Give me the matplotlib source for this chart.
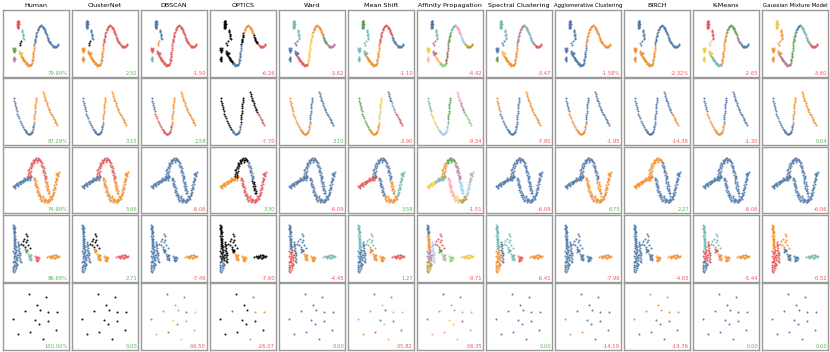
import numpy as np
import matplotlib
matplotlib.use('Agg')
import matplotlib.pyplot as plt

methods = ['Human', 'ClusterNet', 'DBSCAN', 'OPTICS', 'Ward', 'Mean Shift',
           'Affinity Propagation', 'Spectral Clustering', 'Agglomerative Clustering',
           'BIRCH', 'K-Means', 'Gaussian Mixture Model']

palette = {'B': '#4e79a7', 'O': '#f28e2b', 'R': '#e15759', 'T': '#76b7b2',
           'G': '#59a14f', 'Y': '#edc948', 'P': '#b07aa1', 'K': '#ff9da7',
           'N': '#9c755f', 'A': '#bab0ac', 'X': '#000000', 'b': '#a0cbe8',
           'o': '#ffbe7d', 'g': '#8cd17d', 'v': '#b6992d'}

# ---- row 1: sine curve with small groups on the left ----
d1_segments = [
    [(14.6, 10.8), (15.2, 11.4), (14.3, 12.0), (15.5, 12.4), (14.8, 12.9), (15.0, 13.6), (14.2, 14.1),
     (15.6, 14.5), (14.7, 15.1), (15.3, 15.7), (14.4, 16.2), (15.1, 16.8), (14.9, 17.4), (14.5, 18.0),
     (15.4, 18.3), (15.0, 11.0), (14.9, 14.0), (15.2, 17.0)],
    [(19.0, 19.6), (19.4, 20.8), (19.1, 22.3), (19.8, 23.6), (19.5, 25.1), (20.1, 26.4), (19.9, 27.6), (20.5, 28.8)],
    [(16.5, 33.0), (18.2, 31.0), (17.0, 35.5)],
    [(10.0, 38.2), (10.8, 38.9), (11.5, 39.6), (10.4, 40.3), (11.2, 41.0), (12.0, 40.2), (10.6, 41.7), (11.8, 38.4)],
    [(16.2, 41.0), (17.1, 41.8), (17.8, 42.9), (16.8, 43.6), (18.4, 44.2), (17.5, 45.0), (16.4, 42.6), (18.9, 43.1)],
    [(11.2, 46.8), (10.7, 47.9), (11.5, 48.6), (10.4, 49.5), (11.0, 50.4), (10.6, 51.2)],
    [(18.3, 46.0), (19.0, 47.0), (18.7, 47.8), (19.6, 48.5), (20.2, 49.6), (20.8, 50.3), (21.3, 51.2),
     (22.0, 52.0), (22.6, 52.8), (21.6, 50.9), (19.9, 48.9)],
    [(23.3, 53.6), (24.0, 54.3), (24.8, 54.9), (25.5, 55.4), (26.2, 55.5), (27.0, 55.2), (27.6, 54.6),
     (28.2, 53.8), (25.0, 55.7), (26.6, 54.9), (23.8, 53.4)],
    [(28.7, 52.6), (29.1, 51.0), (29.4, 49.3), (29.7, 47.5), (29.9, 45.6), (30.2, 43.7), (30.4, 41.8),
     (30.6, 39.9), (30.8, 38.0), (31.0, 36.2), (29.5, 50.2), (30.1, 44.5)],
    [(31.2, 34.3), (31.5, 32.5), (31.8, 30.7), (32.1, 28.9), (32.5, 27.0), (32.9, 25.1), (33.3, 23.4),
     (31.9, 29.6), (32.7, 26.2)],
    [(33.9, 21.7), (34.5, 20.1), (35.1, 18.7), (35.8, 17.4), (36.6, 16.3), (37.4, 15.6), (38.2, 15.4),
     (34.8, 19.4), (36.2, 16.9)],
    [(39.0, 15.8), (39.7, 16.7), (40.3, 17.9), (40.9, 19.2), (41.5, 20.5), (42.0, 21.8), (42.6, 23.1),
     (43.1, 24.3), (40.6, 18.4), (41.8, 21.1)],
    [(43.6, 25.5), (44.2, 26.9), (44.8, 28.3), (45.4, 29.6), (46.0, 30.9), (46.6, 32.1), (47.2, 33.2),
     (45.1, 28.8), (46.3, 31.6)],
    [(47.9, 34.3), (48.7, 35.3), (49.5, 36.1), (50.4, 36.7), (51.3, 37.0), (52.2, 36.9), (53.0, 36.4),
     (53.8, 35.8), (54.6, 35.0), (55.4, 34.3), (50.9, 36.5), (52.7, 36.6)],
]
d1_labels = ['RTXGYPOOOBBBBB', 'BBXOOOOOORRRRR', 'BBORRTRRRRRRRR', 'XXXXXXXBBXOOXR',
             'TTBBBBRRYYOOGP', 'GTTTTTOOORRRBB', 'BTRYPoogNGTKbv', 'TTBBYGOOOPPTTR',
             'BBBBBBBBBOOOOO', 'BBBOOOOOOBBBBB', 'RRYYYYTTOOGGPB', 'YOOOOOPPGGBTTR']
d1_scores = ['79.99%', '2.52', '-1.50', '-6.26', '-3.62', '-1.10', '-4.42', '-3.47',
             '-1.58%', '-2.32%', '-2.65', '-3.60']

# ---- row 2: U followed by two lines ----
d2_segments = [
    [(11.0, 20.2), (11.4, 22.5), (11.7, 24.6), (12.1, 26.8), (12.6, 29.0), (13.1, 31.2), (13.6, 33.1)],
    [(14.3, 35.5), (15.0, 37.8), (15.8, 40.1), (16.7, 42.4), (17.7, 44.6), (18.8, 46.7), (19.9, 48.6), (21.0, 50.3)],
    [(21.8, 51.5), (22.6, 52.7), (23.4, 53.8), (24.3, 54.8), (25.2, 55.5), (26.2, 55.9), (27.1, 55.7),
     (27.9, 55.0), (28.6, 53.9), (29.2, 52.5), (29.7, 50.9), (30.1, 49.1), (30.4, 47.3), (30.6, 45.5),
     (23.0, 53.5), (25.8, 55.9), (28.3, 54.5)],
    [(30.8, 43.4), (31.0, 41.2), (31.2, 39.0), (31.4, 36.8), (31.6, 34.6), (31.8, 32.4), (32.0, 30.2),
     (32.2, 28.0), (32.4, 25.8), (32.6, 23.6), (32.8, 21.4), (33.0, 19.3)],
    [(40.0, 13.8), (40.6, 15.7), (41.2, 17.6), (41.8, 19.5), (42.4, 21.4), (43.0, 23.2)],
    [(43.6, 25.0), (44.3, 26.8), (45.0, 28.6), (45.7, 30.4), (46.4, 32.1), (47.1, 33.8)],
    [(47.9, 35.5), (48.8, 37.2), (49.7, 38.8), (50.6, 40.4), (51.5, 42.0), (52.4, 43.6), (53.3, 45.1), (54.2, 46.6)],
]
d2_labels = ['BBBOOOO', 'BBBOOOO', 'BRROOOO', 'XXBXXXR', 'OOOBBBB', 'GGOYBTR',
             'TYbGKPg', 'OBBBOOO', 'BOOBBBB', 'BBBBBBO', 'BOOBBBB', 'BBBOOOO']
d2_scores = ['87.29%', '3.10', '2.58', '-7.70', '3.10', '-3.90', '-9.34', '-7.80',
             '-1.95', '-14.38', '-1.30', '0.64']

# ---- row 3: loop shape ----
d3_segments = [
    [(10.2, 39.5), (11.0, 40.6), (11.6, 38.4), (12.3, 39.7), (13.1, 37.6), (13.8, 38.9), (14.4, 36.8),
     (15.2, 38.0), (15.9, 36.0), (16.6, 37.3), (17.3, 35.4), (18.1, 36.6), (18.8, 34.6), (12.0, 41.2),
     (14.9, 39.6), (17.8, 34.1)],
    [(19.5, 35.6), (20.1, 33.7), (20.9, 34.8), (21.6, 32.9), (22.4, 34.0), (23.1, 32.0), (23.8, 33.2),
     (24.6, 31.1), (25.3, 32.4), (26.1, 30.4), (26.8, 31.6), (27.6, 29.8), (28.3, 30.9), (21.2, 31.8),
     (24.0, 30.2), (26.5, 33.0)],
    [(24.8, 29.5), (26.6, 28.8), (25.4, 27.3), (27.2, 26.4), (25.9, 25.1), (27.7, 24.0), (26.4, 22.8),
     (28.2, 21.7), (26.9, 20.5), (28.7, 19.4), (27.5, 18.2), (29.1, 17.1), (28.0, 16.0), (25.2, 23.5),
     (27.0, 30.6)],
    [(29.6, 15.2), (30.3, 13.6), (31.0, 14.9), (31.7, 12.5), (32.4, 13.9), (33.1, 11.6), (33.8, 13.2),
     (34.5, 11.9), (35.2, 13.6), (35.9, 12.4), (36.6, 14.5), (37.2, 13.1), (30.8, 16.4), (34.0, 15.0)],
    [(37.8, 15.9), (39.0, 16.6), (38.4, 18.2), (39.8, 19.1), (39.0, 20.7), (40.5, 21.6), (39.7, 23.2),
     (41.2, 24.0), (40.4, 25.6), (41.9, 26.5), (41.1, 28.1), (42.6, 29.0), (41.8, 30.6), (43.3, 31.5),
     (42.3, 32.8)],
    [(30.6, 31.4), (32.2, 32.3), (31.1, 33.8), (32.8, 34.7), (31.6, 36.2), (33.4, 37.1), (32.2, 38.6),
     (33.9, 39.5), (32.8, 41.0), (34.5, 41.9), (33.5, 43.4), (35.1, 44.3), (34.2, 45.8), (35.7, 46.7),
     (34.9, 48.2), (36.3, 49.0)],
    [(42.0, 34.3), (43.6, 35.2), (42.5, 36.7), (44.1, 37.6), (43.0, 39.1), (44.6, 40.0), (43.5, 41.5),
     (45.1, 42.4), (44.0, 43.9), (45.5, 44.8), (44.6, 46.2), (46.0, 47.0)],
    [(36.5, 50.6), (37.4, 52.3), (38.3, 51.0), (39.1, 53.2), (40.0, 51.8), (40.8, 54.0), (41.6, 52.5),
     (42.4, 54.6), (38.0, 54.1), (41.1, 55.3), (36.9, 48.9), (39.6, 49.9)],
    [(43.2, 53.1), (44.0, 55.1), (44.8, 53.4), (45.6, 54.8), (46.4, 52.6), (47.2, 54.0), (48.0, 51.7),
     (48.6, 53.0), (45.2, 56.0), (47.6, 50.5), (46.5, 49.6)],
    [(49.1, 49.6), (50.4, 48.2), (49.5, 46.7), (51.0, 45.5), (50.1, 44.0), (51.5, 42.8), (50.7, 41.3),
     (52.1, 40.1), (51.3, 38.6), (52.6, 37.6), (49.8, 47.9)],
    [(52.0, 36.0), (53.4, 35.0), (52.6, 33.5), (54.0, 32.5), (53.1, 31.0), (54.5, 29.9), (53.7, 28.5),
     (55.0, 27.4), (54.2, 26.2), (55.6, 25.3), (53.0, 27.0)],
]
d3_labels = ['BBRRROOOOOO', 'BBRRROOOOOO', 'BBBBBBBBBBB', 'OOXXBRXRRRR', 'BBBBBBBBBBB',
             'RRBBBBOOOTT', 'YTOGPKbovbA', 'BBBBBBBBBBB', 'BBBBBOOOOOO', 'OOOOBBBBBBB',
             'BBBBBBBBBBB', 'BBBBBBBBBBB']
d3_scores = ['74.99%', '5.66', '-6.06', '3.30', '-6.09', '3.59', '-1.51', '-6.09',
             '6.75', '2.27', '-6.06', '-6.06']

# ---- row 4: dense column with a tail of groups ----
d4_segments = [
    [(10.4, 10.3), (11.2, 11.2), (10.7, 12.4), (11.5, 13.3), (10.5, 14.5), (11.3, 15.4), (10.8, 16.6),
     (11.6, 17.5), (10.6, 18.7), (11.4, 19.6), (10.3, 13.0), (11.0, 17.1)],
    [(10.5, 20.8), (11.7, 21.6), (10.8, 22.9), (12.1, 23.8), (10.6, 25.0), (11.9, 26.0), (11.1, 27.2),
     (12.4, 28.1), (10.7, 29.3), (12.0, 30.2), (11.3, 31.4), (12.6, 32.3), (10.9, 33.5), (12.2, 34.4),
     (11.5, 24.4), (11.8, 31.0)],
    [(10.3, 36.0), (11.6, 36.8), (12.9, 37.5), (10.8, 38.4), (12.2, 39.2), (13.6, 39.9), (10.5, 40.8),
     (11.9, 41.6), (13.3, 42.3), (14.4, 43.0), (10.9, 43.7), (12.5, 44.5), (13.9, 45.3), (11.4, 46.0),
     (14.8, 40.5), (12.8, 35.6)],
    [(10.1, 47.0), (11.5, 47.6), (12.9, 48.3), (14.2, 48.9), (10.5, 49.8), (11.9, 50.5), (13.4, 51.2),
     (9.8, 52.0), (11.2, 52.7), (12.6, 53.4), (10.4, 54.3), (11.8, 55.0), (9.9, 56.2), (11.0, 57.0),
     (13.8, 50.2), (12.3, 46.2)],
    [(14.6, 27.5), (15.3, 29.4), (14.9, 31.2), (15.8, 33.0), (15.2, 34.9), (16.3, 36.7), (15.6, 38.6),
     (16.8, 40.4), (16.0, 42.3), (17.2, 44.1), (16.5, 45.9), (17.5, 47.6), (15.9, 30.4), (16.9, 37.8)],
    [(23.2, 18.9), (23.8, 21.6), (21.4, 24.5), (19.5, 26.2), (22.6, 27.4), (24.9, 29.8), (18.1, 29.0),
     (20.4, 30.5), (26.6, 33.2), (22.0, 32.0), (24.0, 25.2)],
    [(22.3, 34.3), (23.4, 34.9), (22.8, 35.9), (23.9, 36.3), (22.5, 37.0), (23.6, 35.4)],
    [(25.3, 39.2), (26.6, 39.8), (25.8, 41.0), (27.1, 41.5), (26.2, 42.7), (27.6, 43.2), (26.7, 44.4),
     (28.2, 44.8), (25.6, 43.8), (27.9, 40.6)],
    [(32.4, 41.4), (33.6, 42.0), (34.8, 41.8), (33.0, 43.2), (34.3, 43.6), (35.6, 43.3), (32.8, 44.8),
     (34.1, 45.3), (35.4, 45.0), (33.5, 46.2)],
    [(44.2, 41.8), (45.6, 41.3), (46.9, 42.0), (48.1, 41.1), (49.3, 42.3), (50.4, 41.5), (51.6, 40.6),
     (52.7, 41.9), (53.8, 41.0), (54.9, 42.4), (55.8, 41.7), (50.9, 43.2), (52.3, 43.4), (53.4, 39.9),
     (49.8, 40.2), (47.5, 43.0)],
]
d4_labels = ['BBBBBXGTRO', 'BBBBBXOOOR', 'BBBBBBBBBO', 'XXXBXXXOOX', 'BBRRBBBOOT',
             'TTBBBTOOOR', 'BOPvbRGAgY', 'TTOOBTTTRO', 'BBBBBBBBBO', 'BBBBBBBBOO',
             'TTRBRTROOO', 'OORRROBBBT']
d4_scores = ['86.69%', '2.71', '-7.46', '-7.60', '-4.45', '1.27', '-9.71', '-6.41',
             '-7.96', '-4.65', '-5.44', '-0.52']

# ---- row 5: fifteen isolated points ----
d5_points = [(26.3, 11.0), (42.7, 13.7), (33.7, 22.0), (22.0, 27.7), (37.0, 27.0), (45.3, 28.7),
             (53.7, 28.7), (9.7, 36.0), (32.0, 37.0), (36.3, 41.0), (44.7, 37.7), (53.0, 47.0),
             (27.0, 48.7), (14.7, 51.3), (39.7, 56.0)]
d5_labels = ['X' * 15, 'X' * 15, 'BGTOTNbRYPAgNKo', 'XRXBXOOXXXXXXXT', 'B' * 15,
             'NPbTBKKABbGGROY', 'BGTOTAARYYNOKKb', 'B' * 15, 'BBBBBBBOBBBBOOB',
             'OOOOOOOOBBBBBBB', 'B' * 15, 'B' * 15]
d5_scores = ['100.00%', '0.00', '-36.50', '-26.07', '0.00', '-35.82', '-36.35', '0.00',
             '-14.19', '-19.76', '0.00', '0.00']

rows = [(d1_segments, d1_labels, d1_scores),
        (d2_segments, d2_labels, d2_scores),
        (d3_segments, d3_labels, d3_scores),
        (d4_segments, d4_labels, d4_scores),
        ([[p] for p in d5_points], d5_labels, d5_scores)]

fig, axes = plt.subplots(5, 12, figsize=(8.3, 3.52), dpi=100)
fig.subplots_adjust(left=3 / 830, right=828 / 830, top=1 - 10 / 352, bottom=1 - 350 / 352,
                    wspace=0.045, hspace=0.02)

for r, (segs, labels, scores) in enumerate(rows):
    for c in range(12):
        ax = axes[r, c]
        for seg, code in zip(segs, labels[c]):
            pts = np.array(seg)
            ax.scatter(pts[:, 0], pts[:, 1], s=2.2, c=palette[code], linewidths=0, alpha=0.9)
        ax.set_xlim(0, 66)
        ax.set_ylim(67, 0)
        ax.set_xticks([])
        ax.set_yticks([])
        for sp in ax.spines.values():
            sp.set_color('#9a9a9a')
            sp.set_linewidth(1.0)
        s = scores[c]
        col = '#f05a5a' if s.startswith('-') else '#5cb85c'
        ax.text(0.985, 0.015, s, transform=ax.transAxes, ha='right', va='bottom',
                fontsize=3.8, color=col)
        if r == 0:
            name = methods[c]
            fs = 3.9 if len(name) > 20 else 4.6
            ax.set_title(name, fontsize=fs, pad=2)

fig.savefig('out.png', dpi=100)
